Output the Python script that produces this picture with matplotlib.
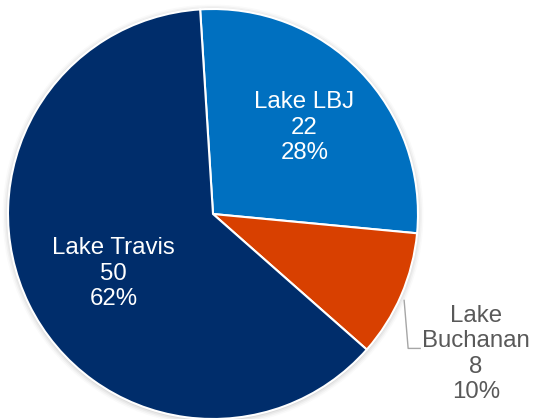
import numpy as np
import matplotlib.pyplot as plt

lakes = ["Lake LBJ", "Lake Buchanan", "Lake Travis"]
counts = [22, 8, 50]
pct_labels = ["28%", "10%", "62%"]
colors = ["#0070C0", "#D84000", "#002D6B"]

plt.rcParams["font.family"] = ["Liberation Sans", "DejaVu Sans"]

fig = plt.figure(figsize=(5.33, 4.19), dpi=100)
ax = fig.add_axes([0, 0, 1, 1])

cx, cy, r = 213, 205, 205

# soft shadow around the pie
for i, a in enumerate([0.05, 0.04, 0.03, 0.02]):
    ax.add_patch(plt.Circle((cx, cy - 1), r + 1 + i * 1.5, color="black",
                            alpha=a, lw=0, zorder=0))

wedges, _ = ax.pie(counts, colors=colors, startangle=93.6, counterclock=False,
                   center=(cx, cy), radius=r, frame=True,
                   wedgeprops=dict(edgecolor="white", linewidth=1.5))
ax.set_xlim(0, 533)
ax.set_ylim(0, 419)
ax.set_aspect("equal")
ax.axis("off")

fs = 17.3
ls = 1.2
for w, name, n, p in zip(wedges, lakes, counts, pct_labels):
    mid = np.deg2rad((w.theta1 + w.theta2) / 2)
    if name == "Lake Buchanan":
        ex, ey = cx + r * np.cos(mid), cy + r * np.sin(mid)
        ax.plot([ex + 3, ex + 7, ex + 19], [ey - 5, ey - 53, ey - 53],
                color="#A6A6A6", lw=1)
        ax.text(476, 419 - 354, f"Lake\nBuchanan\n{n}\n{p}", ha="center",
                va="center", color="#595959", fontsize=fs, linespacing=ls)
    elif name == "Lake LBJ":
        d = 0.62 * r
        ax.text(cx + d * np.cos(mid), cy + d * np.sin(mid) - 2,
                f"{name}\n{n}\n{p}", ha="center", va="center", color="white",
                fontsize=fs, linespacing=ls)
    else:
        d = 0.55 * r
        ax.text(cx + d * np.cos(mid) + 2, cy + d * np.sin(mid) - 10,
                f"{name}\n{n}\n{p}", ha="center", va="center", color="white",
                fontsize=fs, linespacing=ls)

fig.savefig("out.png", dpi=100)
